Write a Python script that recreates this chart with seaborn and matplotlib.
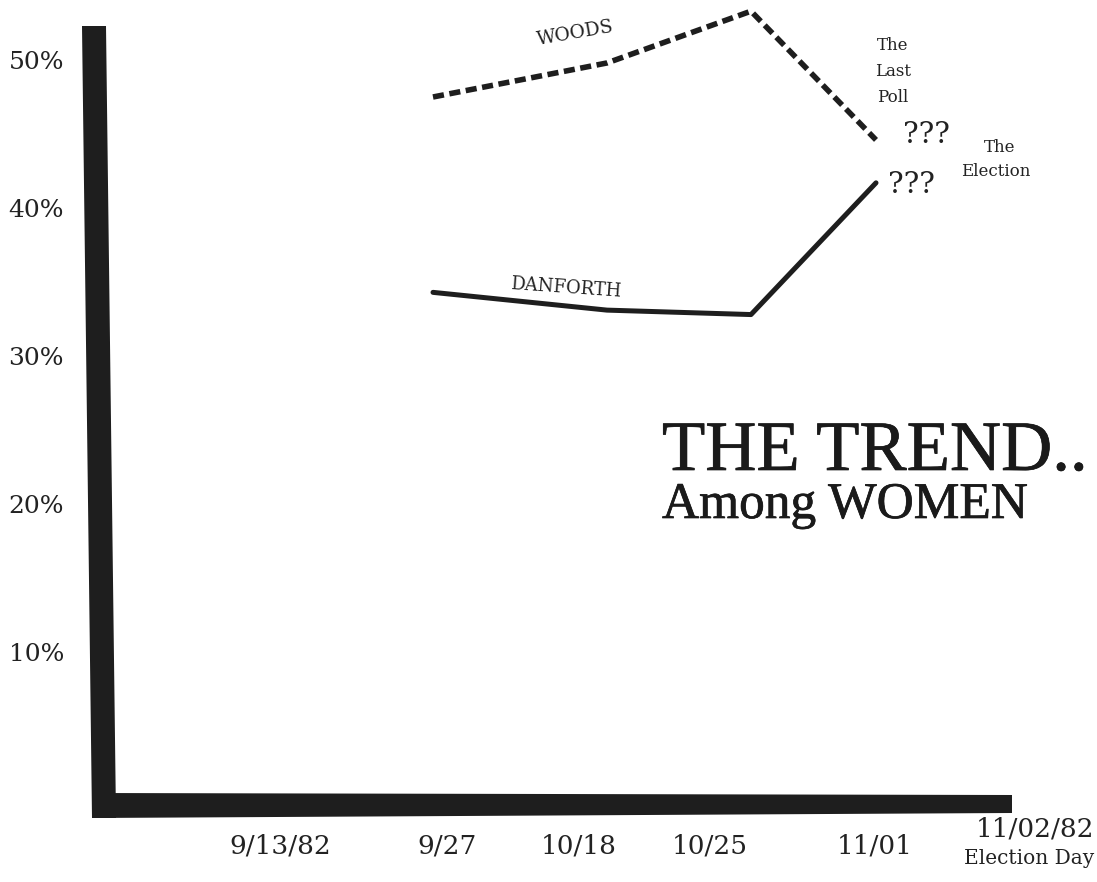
import matplotlib
matplotlib.use("Agg")
import matplotlib.pyplot as plt
import matplotlib.patheffects as pe
import seaborn as sns
import pandas as pd

# ---- data ----
dates = ["9/13/82", "9/27", "10/18", "10/25", "11/01", "11/02/82"]
poll_dates = ["9/27", "10/18", "10/25", "11/01"]
woods = [47.5, 49.8, 53.3, 44.6]
danforth = [34.3, 33.1, 32.8, 41.7]
y_ticks = [10, 20, 30, 40, 50]
y_labels = ["10%", "20%", "30%", "40%", "50%"]

# ---- layout (pixel positions) ----
# where the hand-drawn line vertices sit for each poll
vertex_px = {"9/27": 433, "10/18": 607, "10/25": 751, "11/01": 876}
# where the date labels sit
label_px = {"9/13/82": 280, "9/27": 447, "10/18": 579, "10/25": 710,
            "11/01": 875, "11/02/82": 1035}

W, H = 1097, 882
sns.set_theme(style="white")
ink = "#1e1e1e"
txt_col = "#222222"
serif_small = ["DejaVu Serif"]
serif_title = ["Liberation Serif"]

fig = plt.figure(figsize=(W / 100, H / 100), dpi=100)
fig.patch.set_facecolor("white")

# background decoration axes in pixel coordinates
bg = fig.add_axes([0, 0, 1, 1], zorder=0)
bg.set_xlim(0, W)
bg.set_ylim(H, 0)
bg.axis("off")
bg.fill([82, 106, 116, 92], [26, 26, 818, 818], color=ink, lw=0)
bg.fill([92, 1012, 1012, 92], [793, 795, 813, 818], color=ink, lw=0)

# data axes: y=0 at pixel 800, 14.8 px per percentage point
px_per_pct = 14.8
base_px = 800
ax = fig.add_axes([97 / W, (H - base_px) / H, (W - 97) / W, base_px / H], zorder=1)
ax.set_facecolor("none")
ax.set_xlim(97, W)
ax.set_ylim(0, base_px / px_per_pct)
for s in ax.spines.values():
    s.set_visible(False)

df_w = pd.DataFrame({"pos": [vertex_px[d] for d in poll_dates], "pct": woods})
df_d = pd.DataFrame({"pos": [vertex_px[d] for d in poll_dates], "pct": danforth})
sns.lineplot(data=df_w, x="pos", y="pct", ax=ax, color=ink, lw=4.0,
             linestyle="--")
ax.lines[-1].set_dashes([2.0, 1.0])
ax.lines[-1].set_dash_capstyle("butt")
sns.lineplot(data=df_d, x="pos", y="pct", ax=ax, color=ink, lw=3.6)

ax.set_xlabel("")
ax.set_ylabel("")
ax.set_yticks(y_ticks)
ax.set_yticklabels(y_labels, fontsize=18, family=serif_small, color=txt_col)
ax.tick_params(axis="y", length=0, pad=(97 - 64) * 0.72)
tick_dates = dates[:-1]
ax.set_xticks([label_px[d] for d in tick_dates])
ax.set_xticklabels(tick_dates, fontsize=19, family=serif_small, color=txt_col)
ax.tick_params(axis="x", length=0, pad=(833 - base_px) * 0.72)

# last date label (raised) and Election Day
bg.text(label_px["11/02/82"], 829, dates[-1], ha="center", va="center",
        fontsize=19, family=serif_small, color=txt_col)
bg.text(1029, 858, "Election Day", ha="center", va="center",
        fontsize=14.5, family=serif_small, color=txt_col)

# annotations
bg.text(575, 33, "WOODS", ha="center", va="center", rotation=10,
        fontsize=13.5, family=serif_small, color=txt_col)
bg.text(566, 288, "DANFORTH", ha="center", va="center", rotation=-4,
        fontsize=13, family=serif_small, color=txt_col)
for txt, yy in [("The", 45), ("Last", 71), ("Poll", 97)]:
    bg.text(893, yy, txt, ha="center", va="center", fontsize=12,
            family=serif_small, color=txt_col)
bg.text(926, 135, "???", ha="center", va="center", fontsize=21,
        family=serif_small, color=txt_col)
bg.text(911, 185, "???", ha="center", va="center", fontsize=21,
        family=serif_small, color=txt_col)
bg.text(1000, 148, "The", ha="center", va="center", fontsize=12,
        family=serif_small, color=txt_col)
bg.text(996, 172, "Election", ha="center", va="center", fontsize=12,
        family=serif_small, color=txt_col)

heavy = [pe.withStroke(linewidth=0.5, foreground="#1a1a1a")]
bg.text(662, 470, "THE TREND..", ha="left", va="baseline", fontsize=51,
        family=serif_title, color="#1a1a1a", path_effects=heavy)
bg.text(662, 518, "Among WOMEN", ha="left", va="baseline", fontsize=37,
        family=serif_title, color="#1a1a1a", path_effects=heavy)

fig.savefig("out.png", dpi=100, facecolor="white")
